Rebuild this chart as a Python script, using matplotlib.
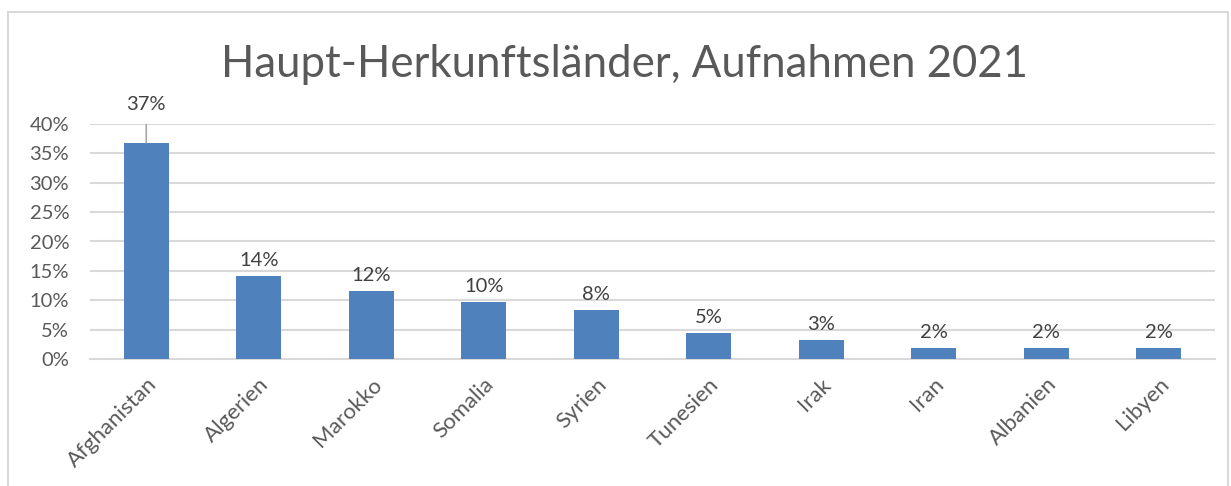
import matplotlib
matplotlib.use("Agg")
import matplotlib.pyplot as plt
from matplotlib.patches import Rectangle

countries = ["Afghanistan", "Algerien", "Marokko", "Somalia", "Syrien",
             "Tunesien", "Irak", "Iran", "Albanien", "Libyen"]
shares = [0.368, 0.141, 0.116, 0.097, 0.084, 0.045, 0.032, 0.019, 0.019, 0.019]
labels = ["37%", "14%", "12%", "10%", "8%", "5%", "3%", "2%", "2%", "2%"]
yticks = [0, 0.05, 0.10, 0.15, 0.20, 0.25, 0.30, 0.35, 0.40]
ytick_labels = ["0%", "5%", "10%", "15%", "20%", "25%", "30%", "35%", "40%"]
title = "Haupt-Herkunftsländer, Aufnahmen 2021"

plt.rcParams['font.family'] = ['Lato', 'DejaVu Sans']
text_color = "#595959"
bar_color = "#4f81bd"
grid_color = "#d9d9d9"

fig = plt.figure(figsize=(12.31, 4.86), dpi=100)
ax = fig.add_axes([90/1231, 1 - 359/486, (1215-90)/1231, (359-124)/486])

x = list(range(len(countries)))
ax.bar(x, shares, width=0.4, color=bar_color, zorder=3)
ax.set_xlim(-0.5, len(countries) - 0.5)
ax.set_ylim(0, 0.40)
ax.set_yticks(yticks)
ax.set_yticklabels(ytick_labels, fontsize=14.5, color=text_color)
ax.set_xticks(x)
ax.set_xticklabels(countries, rotation=45, ha="right", rotation_mode="anchor",
                   fontsize=16, color=text_color)
ax.tick_params(axis="y", length=0, pad=15)
ax.tick_params(axis="x", length=0, pad=11)
ax.grid(axis="y", color=grid_color, linewidth=1.5, zorder=0)
for s in ["top", "right", "left"]:
    ax.spines[s].set_visible(False)
ax.spines["bottom"].set_color(grid_color)
ax.spines["bottom"].set_linewidth(1.5)

for i, (v, lab) in enumerate(zip(shares, labels)):
    if i == 0:
        ax.annotate(lab, xy=(i, v), xytext=(i, 0.418), ha="center", va="bottom",
                    fontsize=14.5, color="#404040", annotation_clip=False,
                    arrowprops=dict(arrowstyle="-", color="#a6a6a6", lw=1.2,
                                    shrinkA=6, shrinkB=0))
    else:
        ax.annotate(lab, xy=(i, v), xytext=(0, 5), textcoords="offset points",
                    ha="center", va="bottom", fontsize=14.5, color="#404040")

fig.text(624.5/1231, 1 - 64/486, title, ha="center", va="center", fontsize=31.5,
         color=text_color)

fig.patches.append(Rectangle((8/1231, -0.1), (1228-8)/1231, (486-12)/486 + 0.1,
                             transform=fig.transFigure, fill=False,
                             edgecolor="#d9d9d9", linewidth=1.5))

fig.savefig("out.png", dpi=100)
